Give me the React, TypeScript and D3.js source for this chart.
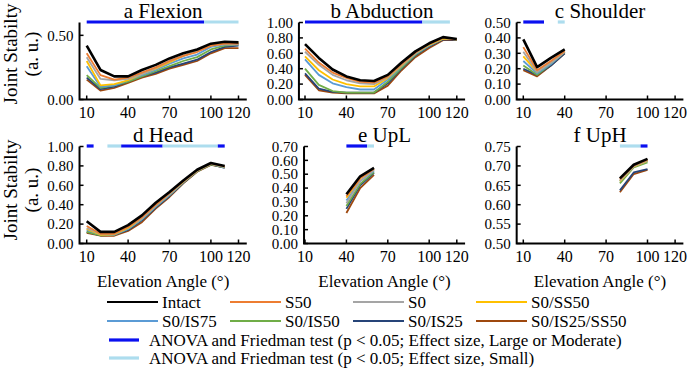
import { useEffect, useRef } from "react";
import * as d3 from "d3";

// series
const seriesNames = ["Intact", "S50", "S0", "S0/SS50", "S0/IS75", "S0/IS50", "S0/IS25", "S0/IS25/SS50"];
const seriesColors = ["#000000", "#ED7D31", "#A5A5A5", "#FFC000", "#5B9BD5", "#70AD47", "#264478", "#9E480E"];

// elevation angles per joint
const anglesFlexion = [10, 20, 30, 40, 50, 60, 70, 80, 90, 100, 110, 120];
const anglesAbduction = [10, 20, 30, 40, 50, 60, 70, 80, 90, 100, 110, 120];
const anglesShoulder = [10, 20, 30, 40];
const anglesHead = [10, 20, 30, 40, 50, 60, 70, 80, 90, 100, 110];
const anglesUpL = [40, 50, 60];
const anglesUpH = [80, 90, 100];

// joint stability, one row per series (same order as seriesNames)
const valuesFlexion = [
	[0.42, 0.23, 0.18, 0.18, 0.23, 0.27, 0.32, 0.36, 0.39, 0.435, 0.45, 0.445],
	[0.36, 0.19, 0.155, 0.17, 0.21, 0.25, 0.3, 0.34, 0.37, 0.42, 0.435, 0.435],
	[0.33, 0.16, 0.15, 0.16, 0.2, 0.245, 0.3, 0.34, 0.38, 0.42, 0.43, 0.43],
	[0.3, 0.11, 0.12, 0.15, 0.2, 0.24, 0.29, 0.34, 0.38, 0.42, 0.44, 0.44],
	[0.26, 0.1, 0.11, 0.15, 0.19, 0.23, 0.28, 0.32, 0.35, 0.41, 0.43, 0.43],
	[0.19, 0.09, 0.11, 0.14, 0.18, 0.22, 0.26, 0.3, 0.33, 0.39, 0.42, 0.43],
	[0.17, 0.08, 0.1, 0.14, 0.18, 0.21, 0.25, 0.28, 0.31, 0.37, 0.41, 0.42],
	[0.155, 0.07, 0.09, 0.13, 0.17, 0.2, 0.24, 0.27, 0.3, 0.36, 0.4, 0.4],
];
const valuesAbduction = [
	[0.72, 0.54, 0.39, 0.3, 0.25, 0.24, 0.32, 0.48, 0.625, 0.73, 0.81, 0.785],
	[0.66, 0.48, 0.35, 0.28, 0.23, 0.22, 0.3, 0.46, 0.61, 0.72, 0.8, 0.78],
	[0.62, 0.45, 0.32, 0.25, 0.21, 0.2, 0.29, 0.45, 0.6, 0.72, 0.8, 0.78],
	[0.56, 0.38, 0.26, 0.2, 0.17, 0.17, 0.28, 0.44, 0.6, 0.71, 0.79, 0.78],
	[0.52, 0.32, 0.21, 0.16, 0.13, 0.13, 0.26, 0.43, 0.59, 0.7, 0.79, 0.78],
	[0.4, 0.19, 0.11, 0.09, 0.09, 0.09, 0.23, 0.41, 0.58, 0.7, 0.79, 0.78],
	[0.34, 0.14, 0.1, 0.09, 0.09, 0.09, 0.21, 0.4, 0.57, 0.69, 0.78, 0.775],
	[0.32, 0.12, 0.09, 0.08, 0.08, 0.08, 0.18, 0.38, 0.55, 0.67, 0.77, 0.77],
];
const valuesShoulder = [
	[0.39, 0.21, 0.27, 0.325],
	[0.34, 0.19, 0.25, 0.315],
	[0.31, 0.18, 0.24, 0.31],
	[0.28, 0.18, 0.24, 0.31],
	[0.25, 0.17, 0.23, 0.31],
	[0.22, 0.16, 0.23, 0.31],
	[0.2, 0.16, 0.22, 0.3],
	[0.19, 0.15, 0.22, 0.3],
];
const valuesHead = [
	[0.23, 0.12, 0.12, 0.19, 0.29, 0.42, 0.53, 0.65, 0.76, 0.83, 0.8],
	[0.18, 0.1, 0.1, 0.17, 0.27, 0.4, 0.52, 0.64, 0.755, 0.825, 0.795],
	[0.16, 0.1, 0.1, 0.17, 0.26, 0.39, 0.51, 0.64, 0.75, 0.82, 0.79],
	[0.15, 0.09, 0.095, 0.16, 0.26, 0.39, 0.51, 0.635, 0.75, 0.82, 0.79],
	[0.14, 0.09, 0.09, 0.15, 0.25, 0.38, 0.5, 0.63, 0.75, 0.82, 0.785],
	[0.12, 0.085, 0.09, 0.15, 0.25, 0.38, 0.5, 0.63, 0.745, 0.815, 0.785],
	[0.12, 0.085, 0.09, 0.14, 0.24, 0.37, 0.49, 0.625, 0.745, 0.815, 0.78],
	[0.11, 0.08, 0.08, 0.13, 0.22, 0.36, 0.48, 0.62, 0.74, 0.81, 0.785],
];
const valuesUpL = [
	[0.355, 0.485, 0.545],
	[0.34, 0.47, 0.54],
	[0.29, 0.45, 0.53],
	[0.33, 0.47, 0.535],
	[0.31, 0.45, 0.525],
	[0.27, 0.43, 0.515],
	[0.25, 0.42, 0.51],
	[0.22, 0.4, 0.495],
];
const valuesUpH = [
	[0.668, 0.703, 0.718],
	[0.665, 0.701, 0.716],
	[0.662, 0.699, 0.714],
	[0.66, 0.698, 0.713],
	[0.66, 0.698, 0.712],
	[0.655, 0.696, 0.709],
	[0.637, 0.683, 0.692],
	[0.632, 0.679, 0.69],
];

// significance ranges: [from, to, effect] (L = large or moderate, S = small)
const sigFlexion = [[10, 95, "L"], [95, 120, "S"]];
const sigAbduction = [[10, 95, "L"], [95, 115, "S"]];
const sigShoulder = [[10, 25, "L"], [35, 40, "S"]];
const sigHead = [[10, 15, "L"], [25, 35, "S"], [35, 65, "L"], [65, 105, "S"], [105, 110, "L"]];
const sigUpL = [[40, 55, "L"], [55, 60, "S"]];
const sigUpH = [[80, 95, "S"], [95, 100, "L"]];

const xTickValues = [10, 40, 70, 100, 120];
const sigColors = { L: "#0A10F0", S: "#ADDDEE" };
const sigLabels = [
	"ANOVA and Friedman test (p < 0.05; Effect size, Large or Moderate)",
	"ANOVA and Friedman test (p < 0.05; Effect size, Small)",
];

const panels = [
	{ title: "a Flexion", angles: anglesFlexion, values: valuesFlexion, sig: sigFlexion, yDomain: [0, 0.6], yTicks: [0, 0.5], col: 0, row: 0, xMin: 4.8 },
	{ title: "b Abduction", angles: anglesAbduction, values: valuesAbduction, sig: sigAbduction, yDomain: [0, 1], yTicks: d3.range(0, 1.01, 0.2), col: 1, row: 0, xMin: 5.6 },
	{ title: "c Shoulder", angles: anglesShoulder, values: valuesShoulder, sig: sigShoulder, yDomain: [0, 0.5], yTicks: d3.range(0, 0.51, 0.1), col: 2, row: 0, xMin: 5.2 },
	{ title: "d Head", angles: anglesHead, values: valuesHead, sig: sigHead, yDomain: [0, 1], yTicks: d3.range(0, 1.01, 0.2), col: 0, row: 1, xMin: 4.8 },
	{ title: "e UpL", angles: anglesUpL, values: valuesUpL, sig: sigUpL, yDomain: [0, 0.7], yTicks: d3.range(0, 0.71, 0.1), col: 1, row: 1, xMin: 9.3 },
	{ title: "f UpH", angles: anglesUpH, values: valuesUpH, sig: sigUpH, yDomain: [0.5, 0.75], yTicks: d3.range(0.5, 0.751, 0.05), col: 2, row: 1, xMin: 5.2 },
];

const WIDTH = 689;
const HEIGHT = 371;
const FONT = "'Liberation Serif', Tinos, 'Times New Roman', serif";

function App() {
	const ref = useRef<SVGSVGElement | null>(null);

	useEffect(() => {
		const svg = d3.select(ref.current);
		svg.selectAll("*").remove();

		const colX10 = [86.7, 305, 523.3];
		const unitPx = 1.38;
		const rowY = [
			[22.5, 99.5],
			[146.5, 243.5],
		];
		const xMax = 126;

		panels.forEach((p) => {
			const x = d3
				.scaleLinear()
				.domain([10, 120])
				.range([colX10[p.col], colX10[p.col] + 110 * unitPx]);
			const [top, bottom] = rowY[p.row];
			const y = d3.scaleLinear().domain(p.yDomain).range([bottom, top]);
			const left = x(p.xMin);
			const right = x(xMax);
			const g = svg.append("g");

			// series lines, Intact drawn last so it sits on top
			const line = d3
				.line<number>()
				.x((_, i) => x(p.angles[i]))
				.y((d) => y(d));
			for (let s = seriesNames.length - 1; s >= 0; s--) {
				g.append("path")
					.attr("d", line(p.values[s]))
					.attr("fill", "none")
					.attr("stroke", seriesColors[s])
					.attr("stroke-width", s === 0 ? 2.6 : 1.8)
					.attr("stroke-linejoin", "round");
			}

			// significance bars along the top
			p.sig.forEach(([a, b, k]) => {
				g.append("line")
					.attr("x1", x(a as number))
					.attr("x2", x(b as number))
					.attr("y1", top - 0.5)
					.attr("y2", top - 0.5)
					.attr("stroke", sigColors[k as "L" | "S"])
					.attr("stroke-width", 3.2);
			});

			// axes
			g.append("path")
				.attr("d", `M${left},${top}V${bottom}H${right}`)
				.attr("fill", "none")
				.attr("stroke", "#000")
				.attr("stroke-width", 2);

			xTickValues.forEach((t) => {
				g.append("line")
					.attr("x1", x(t))
					.attr("x2", x(t))
					.attr("y1", bottom)
					.attr("y2", bottom - 4)
					.attr("stroke", "#000")
					.attr("stroke-width", 1.5);
				g.append("text")
					.attr("x", x(t))
					.attr("y", bottom + 18)
					.attr("text-anchor", "middle")
					.attr("font-size", 16)
					.text(t);
			});

			p.yTicks.forEach((t) => {
				g.append("line")
					.attr("x1", left)
					.attr("x2", left + 4)
					.attr("y1", y(t))
					.attr("y2", y(t))
					.attr("stroke", "#000")
					.attr("stroke-width", 1.5);
				g.append("text")
					.attr("x", left - 6)
					.attr("y", y(t))
					.attr("dy", "0.35em")
					.attr("text-anchor", "end")
					.attr("font-size", 15)
					.text(d3.format(".2f")(t));
			});

			g.append("text")
				.attr("x", (left + right) / 2)
				.attr("y", top - 5)
				.attr("text-anchor", "middle")
				.attr("font-size", 21)
				.text(p.title);

			if (p.col === 0) {
				const cy = p.row === 0 ? 54 : 190;
				g.append("text")
					.attr("transform", `translate(17,${cy}) rotate(-90)`)
					.attr("text-anchor", "middle")
					.attr("font-size", 19)
					.text("Joint Stabilty");
				g.append("text")
					.attr("transform", `translate(38,${cy}) rotate(-90)`)
					.attr("text-anchor", "middle")
					.attr("font-size", 19)
					.text("(a. u.)");
			}

			if (p.row === 1) {
				svg.append("text")
					.attr("x", (left + right) / 2)
					.attr("y", 287)
					.attr("text-anchor", "middle")
					.attr("font-size", 17)
					.text("Elevation Angle (°)");
			}
		});

		// legend
		const legend = svg.append("g");
		const legX = [107, 230, 353, 476];
		const legY = [302, 321];
		seriesNames.forEach((name, i) => {
			const cx = legX[i % 4];
			const cy = legY[Math.floor(i / 4)];
			legend
				.append("line")
				.attr("x1", cx)
				.attr("x2", cx + 51)
				.attr("y1", cy)
				.attr("y2", cy)
				.attr("stroke", seriesColors[i])
				.attr("stroke-width", 2);
			legend
				.append("text")
				.attr("x", cx + 55)
				.attr("y", cy)
				.attr("dy", "0.35em")
				.attr("font-size", 17)
				.text(name);
		});
		sigLabels.forEach((label, i) => {
			const cy = 340 + i * 18;
			legend
				.append("line")
				.attr("x1", 109)
				.attr("x2", 139)
				.attr("y1", cy)
				.attr("y2", cy)
				.attr("stroke", i === 0 ? sigColors.L : sigColors.S)
				.attr("stroke-width", 3.2);
			legend
				.append("text")
				.attr("x", 149)
				.attr("y", cy)
				.attr("dy", "0.35em")
				.attr("font-size", 17)
				.text(label);
		});
	}, []);

	return (
		<svg
			ref={ref}
			width={WIDTH}
			height={HEIGHT}
			style={{ position: "absolute", left: 0, top: 0, background: "#fff", fontFamily: FONT }}
		/>
	);
}

export default App;
